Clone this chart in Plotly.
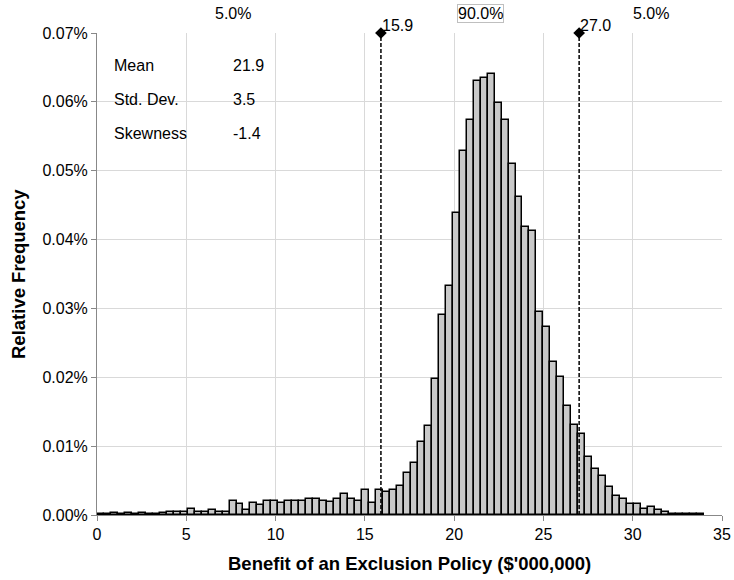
import plotly.graph_objects as go

# ---- data (relative frequency in percent, one value per bin) ----
bin_start = 0.0
bin_width = 0.3906
rel_freq_pct = [
    0.0001, 0.0002, 0.0003, 0.0002, 0.0003, 0.0002, 0.0003, 0.0002, 0.0002, 0.0003,
    0.0004, 0.0005, 0.0005, 0.0008, 0.0004, 0.0004, 0.0007, 0.0005, 0.0005, 0.0020,
    0.0016, 0.0007, 0.0018, 0.0015, 0.0021, 0.0020, 0.0018, 0.0021, 0.0020, 0.0021,
    0.0023, 0.0023, 0.0021, 0.0019, 0.0023, 0.0030, 0.0023, 0.0021, 0.0036, 0.0018,
    0.0037, 0.0034, 0.0037, 0.0042, 0.0061, 0.0076, 0.0106, 0.0129, 0.0198, 0.0290,
    0.0333, 0.0438, 0.0529, 0.0574, 0.0631, 0.0635, 0.0640, 0.0599, 0.0574, 0.0510,
    0.0462, 0.0418, 0.0413, 0.0295, 0.0273, 0.0222, 0.0201, 0.0158, 0.0131, 0.0117,
    0.0084, 0.0067, 0.0056, 0.0041, 0.0027, 0.0023, 0.0016, 0.0016, 0.0008, 0.0012,
    0.0007, 0.0004, 0.0002, 0.0002, 0.0001, 0.0001, 0.0002,
]
lower_cut = 15.9
upper_cut = 27.0
cut_labels = ["15.9", "27.0"]
region_labels = ["5.0%", "90.0%", "5.0%"]
region_label_x = [7.6, 21.45, 31.0]
stat_names = ["Mean", "Std. Dev.", "Skewness"]
stat_values = ["21.9", "3.5", "-1.4"]
x_ticks = [0, 5, 10, 15, 20, 25, 30, 35]
y_max_pct = 0.07
x_title = "Benefit of an Exclusion Policy ($'000,000)"
y_title = "Relative Frequency"

bin_centers = [bin_start + (i + 0.5) * bin_width for i in range(len(rel_freq_pct))]

FONT = "Arial, Liberation Sans, Helvetica, sans-serif"

fig = go.Figure()
fig.add_trace(go.Bar(
    x=bin_centers, y=rel_freq_pct, width=bin_width,
    marker=dict(color="#c9c9c9", line=dict(color="#000000", width=1.5)),
    showlegend=False, hoverinfo="skip",
))

# cut-off lines
for xv in (lower_cut, upper_cut):
    fig.add_shape(type="line", xref="x", yref="y", x0=xv, x1=xv, y0=0, y1=y_max_pct,
                  line=dict(color="#000000", width=1.5, dash="4px,2px"))

fig.add_trace(go.Scatter(
    x=[lower_cut, upper_cut], y=[y_max_pct, y_max_pct], mode="markers",
    marker=dict(symbol="diamond", size=9, color="#000000"),
    cliponaxis=False, showlegend=False, hoverinfo="skip",
))

annotations = []
for xv, lab in zip((lower_cut, upper_cut), cut_labels):
    annotations.append(dict(x=xv, y=y_max_pct, xref="x", yref="y", text=lab,
                            showarrow=False, xanchor="left", yanchor="middle",
                            xshift=-1, yshift=8, font=dict(size=16, color="#000000", family=FONT)))

for i, (xv, lab) in enumerate(zip(region_label_x, region_labels)):
    a = dict(x=xv, y=1, xref="x", yref="paper", text=lab, showarrow=False,
             xanchor="center", yanchor="middle", yshift=20,
             font=dict(size=16, color="#000000", family=FONT))
    if i == 1:
        a.update(bordercolor="#bfbfbf", borderwidth=1, borderpad=0, bgcolor="#ffffff")
    annotations.append(a)

stat_y = [0.932, 0.861, 0.7925]
for nm, val, yv in zip(stat_names, stat_values, stat_y):
    annotations.append(dict(x=0.0235, y=yv, xref="paper", yref="paper", text=nm,
                            showarrow=False, xanchor="left", yanchor="middle",
                            font=dict(size=16, color="#000000", family=FONT)))
    annotations.append(dict(x=0.2144, y=yv, xref="paper", yref="paper", text=val,
                            showarrow=False, xanchor="left", yanchor="middle",
                            font=dict(size=16, color="#000000", family=FONT)))

# axis titles
annotations.append(dict(x=0.5, y=-0.0996, xref="paper", yref="paper",
                        text="<b>" + x_title + "</b>", showarrow=False,
                        xanchor="center", yanchor="middle",
                        font=dict(size=18.5, color="#000000", family=FONT)))
annotations.append(dict(x=-(97 - 18) / 625, y=0.5, xref="paper", yref="paper",
                        text="<b>" + y_title + "</b>", showarrow=False, textangle=-90,
                        xanchor="center", yanchor="middle",
                        font=dict(size=18.5, color="#000000", family=FONT)))

fig.update_layout(
    width=734, height=580,
    margin=dict(l=97, r=12, t=33, b=65, autoexpand=False),
    paper_bgcolor="#ffffff", plot_bgcolor="#ffffff",
    bargap=0,
    font=dict(family=FONT, size=16, color="#000000"),
    annotations=annotations,
    xaxis=dict(
        range=[0, 35], tickvals=x_ticks, ticktext=[str(t) for t in x_ticks],
        showgrid=True, gridcolor="#d9d9d9", gridwidth=1,
        showline=True, linecolor="#888888", linewidth=1,
        ticks="outside", ticklen=5, tickcolor="#888888",
        zeroline=False, tickfont=dict(size=16, family=FONT), automargin=False,
    ),
    yaxis=dict(
        range=[0, y_max_pct], dtick=0.01, tickformat=".2f", ticksuffix="%",
        showgrid=True, gridcolor="#d9d9d9", gridwidth=1,
        showline=True, linecolor="#888888", linewidth=1,
        ticks="outside", ticklen=5, tickcolor="#888888",
        zeroline=False, tickfont=dict(size=16, family=FONT), automargin=False,
    ),
)

# remove the browser's default 8px body margin so the figure sits at the page origin
fig.write_html("out.html", config={"displayModeBar": False},
               post_script="document.body.style.margin='0px';document.body.style.overflow='hidden';")
